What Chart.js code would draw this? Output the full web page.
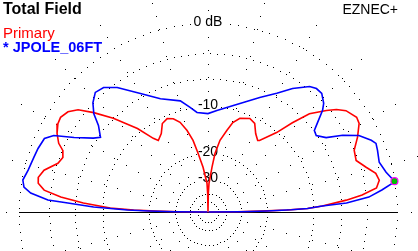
<!DOCTYPE html>
<html><head><meta charset="utf-8">
<style>html,body{margin:0;padding:0;background:#fff;overflow:hidden}</style>
<script src="https://cdn.jsdelivr.net/npm/chart.js@4.4.0/dist/chart.umd.min.js"></script>
</head><body>
<canvas id="c" width="418" height="251" style="display:block"></canvas>
<script>
// Elevation angle (deg, 0 = right horizon, 180 = left horizon) and gain (dB rel. max)
const primaryAngles = [0,0.5,1,1.5,2,3.0,4.9,6.3,8.1,10.5,13.0,15.8,19.2,22.9,26.6,30.4,32.5,36.3,38.6,40.6,44.1,46.6,49.2,54.2,55.2,58.7,62.2,65.9,71.2,74.5,77.0,80.5,83.2,84.9,88.0,89,90,91,92.0,96.3,99.6,101.8,104.4,107.3,110.4,113.6,117.3,120.8,124.8,126.6,130.2,135.3,139.0,141.8,144.4,147.3,149.5,152.5,155.3,157.0,159.4,162.0,165.7,168.4,170.4,172.4,174.2,175.9,177.7,178.5,179,179.5,180];
const primaryGain   = [-99,-32,-22,-15,-11,-8.6,-5.3,-3.4,-1.8,-1.4,-1.6,-2.4,-3.2,-3.0,-2.1,-1.3,-1.2,-1.7,-2.4,-3.3,-5.0,-7.4,-10.1,-13.1,-13.3,-12.4,-10.9,-10.5,-11.1,-12.2,-14.0,-16.4,-20.0,-24.6,-32.3,-40,-99,-40,-32.3,-24.6,-19.8,-16.3,-13.9,-12.0,-11.0,-10.6,-11.0,-12.5,-13.3,-12.4,-9.4,-6.0,-3.8,-2.3,-1.6,-1.3,-1.4,-1.8,-2.4,-3.1,-3.4,-3.1,-1.9,-1.5,-1.6,-2.3,-4.2,-7.1,-11.3,-16.0,-22,-32,-99];

const refAngles = [0,0.5,1,1.5,2,3.0,3.7,5.3,7.2,8.9,9.4,12.6,16.2,20.0,22.2,23.7,26.9,29.7,32.2,35.2,37.5,39.0,41.6,43.2,46.2,48.7,51.0,55.6,59.9,65.7,73.6,85.0,90,96.3,99.7,104.0,112.8,119.7,126.1,130.0,133.3,136.5,139.3,141.7,145.2,147.2,150.9,153.6,155.8,159.5,162.6,166.9,170.2,172.3,173.9,175.7,176.3,177.5,178.6,179,179.5,180];
const refGain   = [-99,-30,-20,-14,-11,-8.6,-5.3,-2.7,-1.3,-0.2,0,-0.6,-1.0,-0.8,-0.7,-1.0,-1.9,-3.4,-5.2,-6.1,-5.9,-5.1,-3.6,-3.0,-2.4,-2.4,-2.7,-4.0,-5.5,-7.0,-8.8,-10.6,-11.2,-10.9,-9.9,-8.6,-7.4,-5.6,-3.5,-2.6,-2.4,-3.0,-3.9,-5.2,-6.3,-5.6,-3.6,-1.6,-0.9,-0.7,-0.6,-0.4,-0.1,-0.3,-1.0,-2.8,-5.1,-8.6,-14.6,-20,-30,-99];

const ringLevels = [0,-3,-6,-10,-20,-30,-40,-50];
const ringLabels = [[0,'0 dB'],[-10,'-10'],[-20,'-20'],[-30,'-30']];
const spokeAngles = [0,15,30,45,60,75,90,105,120,135,150,165];

const titleText = 'Total Field';
const brandText = 'EZNEC+';
const primaryName = 'Primary';
const refName = '* JPOLE_06FT';

// ARRL log scale radius
function rho(db){ return Math.pow(0.89, -db/2); }
function toXY(angles, gains){
  return angles.map((a,i)=>{ const r = rho(gains[i]); const t = a*Math.PI/180; return {x:r*Math.cos(t), y:r*Math.sin(t)}; });
}
const CX = 208, CY = 212, RPX = 189, W = 418, H = 251;

let mi = 0; refGain.forEach((g,i)=>{ if(g>refGain[mi]) mi=i; });
const markerPt = toXY([refAngles[mi]],[refGain[mi]]);

const gridPlugin = {
  id:'polarGrid',
  beforeDatasetsDraw(chart){
    const ctx = chart.ctx, xs = chart.scales.x, ys = chart.scales.y;
    const cx = xs.getPixelForValue(0), cy = ys.getPixelForValue(0);
    const R = xs.getPixelForValue(1) - cx;
    ctx.save();
    ctx.fillStyle = '#000';
    ringLevels.forEach(db=>{
      const r = R*rho(db);
      const step = 3 + r*0.027;
      const n = Math.max(8, Math.round(2*Math.PI*r/step));
      for(let i=0;i<n;i++){
        const a = i/n*2*Math.PI;
        ctx.fillRect(Math.round(cx + r*Math.cos(a)), Math.round(cy - r*Math.sin(a)), 1, 1);
      }
    });
    spokeAngles.forEach(deg=>{
      const t = deg*Math.PI/180;
      for(let d=40.5; d<R*1.2; d+=13.5){
        [1,-1].forEach(s=>{
          ctx.fillRect(Math.round(cx + s*d*Math.cos(t)), Math.round(cy - s*d*Math.sin(t)), 1, 1);
        });
      }
    });
    // ground line
    ctx.fillRect(Math.round(cx - R), Math.round(cy), Math.round(2*R), 1);
    // ring labels
    ctx.font = '14px "Liberation Sans", Arial, sans-serif';
    ctx.textAlign = 'center'; ctx.textBaseline = 'middle';
    ringLabels.forEach(([db,txt])=>{
      const r = R*rho(db);
      const w = ctx.measureText(txt).width;
      ctx.fillStyle = '#fff'; ctx.fillRect(cx - w/2 - 1, cy - r - 7, w + 2, 13);
      ctx.fillStyle = '#000'; ctx.fillText(txt, cx, cy - r - 1);
    });
    // header texts
    ctx.textAlign = 'left'; ctx.textBaseline = 'alphabetic';
    ctx.font = 'bold 16px "Liberation Sans", Arial, sans-serif';
    ctx.fillStyle = '#000'; ctx.fillText(titleText, 3, 14);
    ctx.font = '15px "Liberation Sans", Arial, sans-serif';
    ctx.fillStyle = '#ff0000'; ctx.fillText(primaryName, 3, 38);
    ctx.font = 'bold 14.5px "Liberation Sans", Arial, sans-serif';
    ctx.fillStyle = '#0000ff'; ctx.fillText(refName, 3, 52);
    ctx.font = '14px "Liberation Sans", Arial, sans-serif';
    ctx.fillStyle = '#000'; ctx.textAlign = 'right'; ctx.fillText(brandText, 398, 14);
    ctx.restore();
  }
};

new Chart(document.getElementById('c').getContext('2d'), {
  type:'scatter',
  data:{datasets:[
    {label:'max', data:markerPt, showLine:false, pointRadius:3.5, pointBackgroundColor:'#00c000', pointBorderColor:'#ff00ff', pointBorderWidth:1.2, order:-1},
    {label:refName, data:toXY(refAngles, refGain), showLine:true, borderColor:'#0000ff', borderWidth:1.6, pointRadius:0, tension:0, order:0},
    {label:primaryName, data:toXY(primaryAngles, primaryGain), showLine:true, borderColor:'#ff0000', borderWidth:1.6, pointRadius:0, tension:0, order:1}
  ]},
  options:{
    responsive:false, animation:false, devicePixelRatio:1, events:[],
    layout:{padding:0, autoPadding:false},
    plugins:{legend:{display:false}, tooltip:{enabled:false}, title:{display:false}},
    scales:{
      x:{type:'linear', display:false, min:-CX/RPX, max:(W-CX)/RPX},
      y:{type:'linear', display:false, min:-(H-CY)/RPX, max:CY/RPX}
    }
  },
  plugins:[gridPlugin]
});
</script>
</body></html>
